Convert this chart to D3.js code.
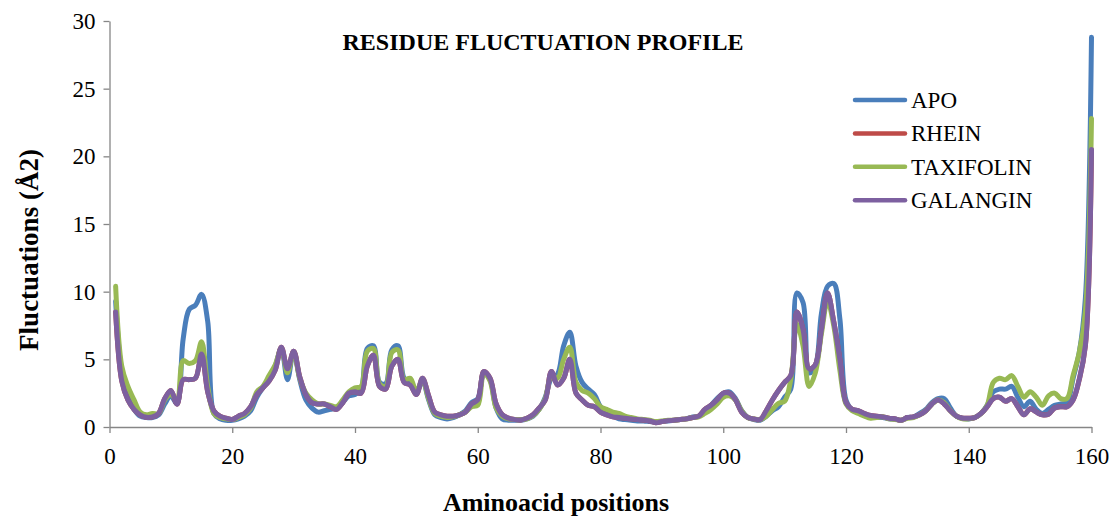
<!DOCTYPE html>
<html>
<head>
<meta charset="utf-8">
<script src="https://cdn.jsdelivr.net/npm/d3@7"></script>
<style>
  body { margin: 0; background: #fff; }
  text { font-family: "Liberation Serif", "Times New Roman", serif; fill: #000; }
  .axis path, .axis line { stroke: #868686; stroke-width: 1.3; }
  .axis text { font-size: 23px; }
</style>
</head>
<body>
<script>
// residue positions 1..160
const positions = d3.range(1, 161);
const seriesNames = ["APO", "RHEIN", "TAXIFOLIN", "GALANGIN"];
const xTicks = [0, 20, 40, 60, 80, 100, 120, 140, 160];
const yTicks = [0, 5, 10, 15, 20, 25, 30];

const apo = [
  9.3,4.0,2.3,1.3,0.8,0.7,0.7,0.9,1.7,2.3, 1.7,6.5,8.7,9.0,9.8,7.8,1.0,0.6,0.5,0.5,
  0.6,0.8,1.2,2.2,2.9,3.5,4.5,5.8,3.5,5.6, 3.5,2.0,1.4,1.1,1.2,1.3,1.4,1.8,2.3,2.4,
  2.8,5.8,6.0,3.3,3.2,5.7,6.0,3.6,3.3,2.6, 3.4,2.0,0.9,0.7,0.6,0.7,0.9,1.2,1.8,2.1,
  4.0,3.5,1.4,0.6,0.5,0.5,0.5,0.6,0.8,1.3, 2.2,3.6,3.9,6.0,7.0,4.5,3.3,2.8,2.4,1.5,
  1.1,0.8,0.6,0.55,0.5,0.45,0.45,0.4,0.35,0.4, 0.45,0.5,0.55,0.6,0.75,0.8,1.2,1.6,2.1,2.5,
  2.6,2.1,1.2,0.7,0.55,0.5,0.8,1.2,1.5,2.2, 2.8,9.9,9.2,4.0,4.5,8.4,10.4,10.6,8.0,2.0,
  1.3,1.2,0.9,0.8,0.7,0.7,0.6,0.6,0.5,0.7, 0.75,1.0,1.3,1.8,2.1,2.1,1.4,0.8,0.65,0.6,
  0.7,1.0,1.6,2.6,2.8,2.8,3.0,2.2,1.5,1.9, 1.3,1.0,1.3,1.6,1.7,1.8,3.6,5.5,9.5,28.8
];

const rhein = [
  8.5,3.4,2.0,1.3,0.9,0.72,0.75,1.0,2.1,2.7, 1.7,3.5,3.5,3.6,5.4,2.6,1.2,0.8,0.65,0.55,
  0.8,1.0,1.5,2.4,2.9,3.4,4.2,5.9,4.3,5.6, 3.7,2.4,1.8,1.7,1.7,1.5,1.3,1.8,2.5,2.6,
  2.5,4.5,5.3,3.0,2.8,4.5,5.0,3.3,3.1,2.4, 3.6,2.3,1.1,0.9,0.8,0.8,0.9,1.1,1.7,2.0,
  4.1,3.6,1.7,0.9,0.65,0.55,0.52,0.65,0.9,1.4, 2.0,4.1,3.1,3.6,5.0,2.5,2.0,1.6,1.5,1.1,
  0.9,0.75,0.7,0.65,0.6,0.55,0.52,0.45,0.32,0.4, 0.47,0.5,0.55,0.6,0.7,0.8,1.3,1.6,2.0,2.5,
  2.5,2.0,1.1,0.7,0.6,0.55,1.2,2.0,2.7,3.3, 3.8,8.5,7.2,4.3,4.6,7.2,9.9,7.8,5.0,1.8,
  1.3,1.2,1.0,0.85,0.8,0.75,0.65,0.6,0.5,0.7, 0.75,0.9,1.2,1.7,2.0,1.7,1.2,0.8,0.65,0.65,
  0.7,1.0,1.5,2.1,2.2,1.9,2.1,1.5,0.9,1.35, 1.1,0.9,0.95,1.4,1.5,1.5,2.0,3.5,6.0,20.5
];

const taxifolin = [
  10.4,4.5,3.0,2.0,1.1,0.9,1.0,1.0,2.0,2.4, 2.0,4.9,4.7,4.9,6.3,3.0,1.0,0.7,0.6,0.55,
  0.7,0.9,1.4,2.6,3.0,3.8,4.6,5.8,4.0,5.5, 3.6,2.5,2.0,1.7,1.7,1.6,1.5,2.0,2.6,2.9,
  3.0,5.6,5.8,3.2,3.0,5.5,5.7,3.5,3.6,2.6, 3.5,2.1,1.0,0.8,0.7,0.75,0.9,1.1,1.5,1.6,
  4.0,3.4,1.4,0.8,0.6,0.55,0.55,0.6,0.85,1.3, 2.1,3.8,3.6,5.0,5.9,3.3,2.7,2.5,2.1,1.5,
  1.3,1.1,1.0,0.8,0.7,0.6,0.55,0.5,0.4,0.45, 0.5,0.5,0.55,0.6,0.7,0.75,1.0,1.3,1.7,2.2,
  2.3,2.0,1.2,0.7,0.6,0.55,0.8,1.3,1.75,1.9, 3.5,7.6,6.0,3.0,4.0,6.9,9.3,7.5,4.2,1.7,
  1.2,1.0,0.8,0.65,0.7,0.75,0.6,0.55,0.5,0.65, 0.7,0.9,1.2,1.7,2.0,1.8,1.2,0.8,0.6,0.6,
  0.7,1.0,1.6,3.3,3.6,3.5,3.8,3.0,2.2,2.6, 2.2,1.6,2.3,2.5,2.1,2.1,3.8,5.5,8.5,22.8
];

const galangin = [
  8.5,3.4,2.0,1.3,0.9,0.72,0.75,1.0,2.1,2.7, 1.7,3.5,3.5,3.6,5.4,2.6,1.2,0.8,0.65,0.55,
  0.8,1.0,1.5,2.4,2.9,3.4,4.2,5.9,4.3,5.6, 3.7,2.4,1.8,1.7,1.7,1.5,1.3,1.8,2.5,2.6,
  2.5,4.5,5.3,3.0,2.8,4.5,5.0,3.3,3.1,2.4, 3.6,2.3,1.1,0.9,0.8,0.8,0.9,1.1,1.7,2.0,
  4.1,3.6,1.7,0.9,0.65,0.55,0.52,0.65,0.9,1.4, 2.0,4.1,3.1,3.6,5.0,2.5,2.0,1.6,1.5,1.1,
  0.9,0.75,0.7,0.65,0.6,0.55,0.52,0.45,0.32,0.4, 0.47,0.5,0.55,0.6,0.7,0.8,1.3,1.6,2.0,2.5,
  2.5,2.0,1.1,0.7,0.6,0.55,1.2,2.0,2.7,3.3, 3.8,8.5,7.2,4.3,4.6,7.2,9.9,7.8,5.0,1.8,
  1.3,1.2,1.0,0.85,0.8,0.75,0.65,0.6,0.5,0.7, 0.75,0.9,1.2,1.7,2.0,1.7,1.2,0.8,0.65,0.65,
  0.7,1.0,1.5,2.1,2.2,1.9,2.1,1.5,0.9,1.35, 1.1,0.9,0.95,1.4,1.5,1.5,2.0,3.5,6.0,20.5
];

const radar = () => {
  let svg = d3.select("body").append("svg")
      .attr("width", 1113)
      .attr("height", 516);

  const colors = ["#4A7EBB", "#BE4B48", "#98B954", "#7D60A0"];
  const allSeries = [apo, rhein, taxifolin, galangin];

  let x = d3.scaleLinear().domain([0, 160]).range([109.5, 1091.5]);
  let y = d3.scaleLinear().domain([0, 30]).range([427, 21]);

  //axes
  svg.append("g")
      .attr("class", "axis")
      .attr("transform", "translate(0,427)")
      .call(d3.axisBottom(x).tickValues(xTicks).tickSize(6).tickSizeOuter(0).tickPadding(15));

  svg.append("g")
      .attr("class", "axis")
      .attr("transform", "translate(109.5,0)")
      .call(d3.axisLeft(y).tickValues(yTicks).tickSize(6).tickSizeOuter(0).tickPadding(8));

  svg.selectAll(".axis text").attr("fill", "#000").style("font-family", "Liberation Serif");

  //lines
  let line = d3.line()
      .x((d, i) => x(positions[i]))
      .y(d => y(d))
      .curve(d3.curveCatmullRom.alpha(0.5));

  allSeries.forEach((s, i) => {
    svg.append("path")
      .datum(s)
      .attr("d", line)
      .attr("fill", "none")
      .attr("stroke", colors[i])
      .attr("stroke-width", 5)
      .attr("stroke-linejoin", "round")
      .attr("stroke-linecap", "round");
  });

  //titles
  svg.append("text")
      .attr("x", 543)
      .attr("y", 50)
      .attr("text-anchor", "middle")
      .style("font-size", "24px")
      .style("font-weight", "bold")
      .text("RESIDUE FLUCTUATION PROFILE");

  svg.append("text")
      .attr("x", 556)
      .attr("y", 511)
      .attr("text-anchor", "middle")
      .style("font-size", "26px")
      .style("font-weight", "bold")
      .text("Aminoacid positions");

  svg.append("text")
      .attr("transform", "translate(38,250) rotate(-90)")
      .attr("text-anchor", "middle")
      .style("font-size", "27px")
      .style("font-weight", "bold")
      .text("Fluctuations (Å2)");

  //legend
  seriesNames.forEach((name, i) => {
    let ly = 100 + i * 33.4;
    svg.append("line")
      .attr("x1", 855)
      .attr("x2", 905)
      .attr("y1", ly)
      .attr("y2", ly)
      .attr("stroke", colors[i])
      .attr("stroke-width", 4.5)
      .attr("stroke-linecap", "round");
    svg.append("text")
      .attr("x", 911)
      .attr("y", ly + 8)
      .style("font-size", "23px")
      .text(name);
  });
};

radar();
</script>
</body>
</html>
